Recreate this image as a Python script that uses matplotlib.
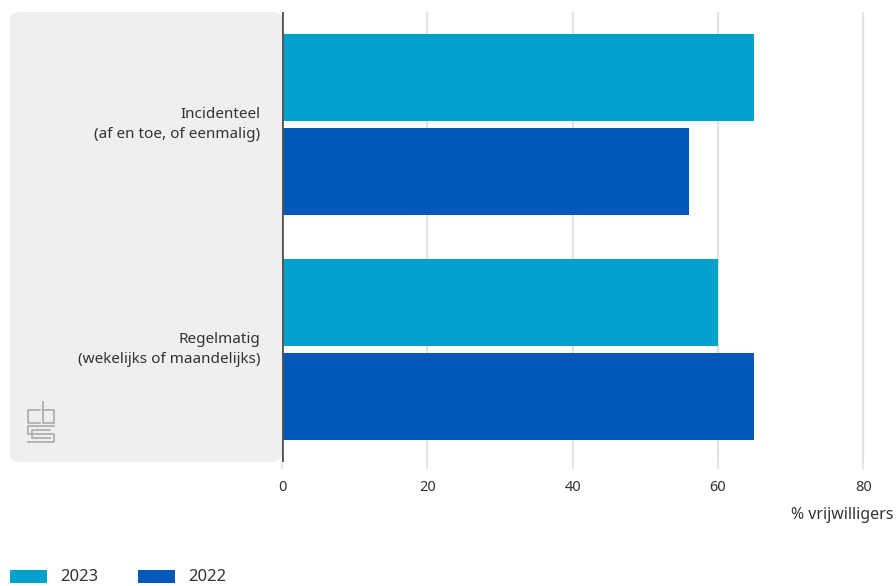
import matplotlib.pyplot as plt
import numpy as np
from matplotlib.patches import FancyBboxPatch, Rectangle
from matplotlib.lines import Line2D

plt.rcParams['font.family'] = ['Noto Sans', 'DejaVu Sans']

categories = ['Incidenteel\n(af en toe, of eenmalig)', 'Regelmatig\n(wekelijks of maandelijks)']
years = ['2023', '2022']
vals_2023 = [65, 60]
vals_2022 = [56, 65]
colors = ['#00A1CD', '#0058B8']
xticks = [0, 20, 40, 60, 80]

fig = plt.figure(figsize=(8.96, 5.86), dpi=100)

# grey label panel behind everything
panel = FancyBboxPatch((10 / 896, 1 - 462 / 586), 272 / 896, 450 / 586,
                       boxstyle='round,pad=0,rounding_size=0.012',
                       transform=fig.transFigure, facecolor='#efefef',
                       edgecolor='none', zorder=-5)
fig.patches.append(panel)

ax = fig.add_axes([282 / 896, 1 - 462 / 586, 1 - 282 / 896, 450 / 586])
ax.set_facecolor('none')

y = np.arange(len(categories))
off = 0.2095
h = 0.384
ax.barh(y - off, vals_2023, height=h, color=colors[0], zorder=3)
ax.barh(y + off, vals_2022, height=h, color=colors[1], zorder=3)

ax.set_xlim(0, 84.5)
ax.set_ylim(1.5, -0.5)
ax.set_xticks(xticks)
ax.set_xticklabels([str(t) for t in xticks])
ax.set_yticks([])
for s in ax.spines.values():
    s.set_visible(False)
ax.axvline(0, color='#555555', lw=2, zorder=4)
for t in xticks[1:]:
    ax.axvline(t, color='#e3e3e3', lw=1.6, zorder=1)
ax.tick_params(axis='x', length=5, width=1.2, color='#e3e3e3', labelsize=10.5,
               labelcolor='#333333', pad=8)

for yi, lab in zip(y, categories):
    ax.text(-3, yi, lab, ha='right', va='center', fontsize=11, color='#333333',
            linespacing=1.45)

fig.text(893 / 896, 1 - 515 / 586, '% vrijwilligers', ha='right', va='center',
         fontsize=11.5, color='#333333')

# legend
for i, (yr, c) in enumerate(zip(years, colors)):
    x0 = 10 + i * 128
    fig.patches.append(Rectangle((x0 / 896, 1 - 583 / 586), 37 / 896, 13 / 586,
                                 transform=fig.transFigure, facecolor=c, edgecolor='none'))
    fig.text((x0 + 50) / 896, 1 - 577 / 586, yr, ha='left', va='center',
             fontsize=12, color='#333333')

# simplified cbs logo
def fl(xs, ys):
    fig.lines.append(Line2D([x / 896 for x in xs], [1 - v / 586 for v in ys],
                            transform=fig.transFigure, color='#aaaaaa', lw=1.2))

fl([40, 28, 28, 40], [410, 410, 423, 423])
fl([43, 43, 54, 54, 43], [402, 423, 423, 410, 410])
fl([54, 28, 28, 54, 54, 28], [426, 426, 434, 434, 442, 442])
fl([50, 32, 32, 50], [430, 430, 438, 438])

fig.savefig('out.png', dpi=100)
